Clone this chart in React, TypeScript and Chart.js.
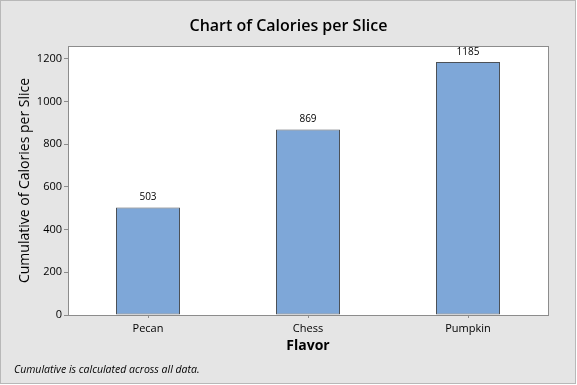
import React, { useEffect, useRef } from 'react';
import { Chart, registerables } from 'chart.js';

Chart.register(...registerables);

const categories = ['Pecan', 'Chess', 'Pumpkin'];
const calories = [503, 869, 1185];
const yMin = 0;
const yMax = 1260;
const yStep = 200;
const chartTitle = 'Chart of Calories per Slice';
const xTitle = 'Flavor';
const yTitle = 'Cumulative of Calories per Slice';
const footnote = 'Cumulative is calculated across all data.';

const FONT = "'Open Sans', 'DejaVu Sans', sans-serif";

const framePlugin = {
  id: 'frame',
  beforeDraw(chart: any) {
    const { ctx, width, height, chartArea: a } = chart;
    ctx.save();
    ctx.fillStyle = '#ffffff';
    ctx.fillRect(0, 0, width, height);
    ctx.fillStyle = '#e5e5e5';
    ctx.fillRect(0, 0, 576, 384);
    ctx.strokeStyle = '#b8b8b8';
    ctx.lineWidth = 1;
    ctx.strokeRect(0.5, 0.5, 575, 383);
    ctx.fillStyle = '#ffffff';
    ctx.fillRect(a.left, a.top, a.right - a.left, a.bottom - a.top);
    ctx.restore();
  },
  afterDatasetsDraw(chart: any) {
    const { ctx, chartArea: a } = chart;
    ctx.save();
    ctx.strokeStyle = '#8c8c8c';
    ctx.lineWidth = 1;
    ctx.strokeRect(Math.round(a.left) + 0.5, Math.round(a.top) + 0.5, Math.round(a.right - a.left), Math.round(a.bottom - a.top));
    const meta = chart.getDatasetMeta(0);
    ctx.fillStyle = '#000000';
    ctx.font = `10px ${FONT}`;
    ctx.textAlign = 'center';
    ctx.textBaseline = 'middle';
    meta.data.forEach((el: any, i: number) => {
      ctx.fillText(String(chart.data.datasets[0].data[i]), el.x, el.y - 10);
    });
    ctx.font = `italic 10.5px ${FONT}`;
    ctx.textAlign = 'left';
    ctx.fillText(footnote, 14, 370.5);
    ctx.restore();
  },
};

export default function App() {
  const ref = useRef<HTMLCanvasElement | null>(null);
  useEffect(() => {
    if (!ref.current) return;
    const chart = new Chart(ref.current, {
      type: 'bar',
      data: {
        labels: categories,
        datasets: [
          {
            data: calories,
            backgroundColor: '#7ea7d8',
            borderColor: '#4c5157',
            borderWidth: 1,
            borderSkipped: false,
            barPercentage: 0.4,
            categoryPercentage: 1,
          },
        ],
      },
      options: {
        responsive: false,
        animation: false,
        layout: { padding: { left: 0, right: 0, top: 0, bottom: 20 } },
        plugins: {
          legend: { display: false },
          tooltip: { enabled: false },
          title: {
            display: true,
            text: chartTitle,
            color: '#000000',
            font: { family: FONT, size: 16, weight: '600', lineHeight: 1.2 },
            padding: { top: 17, bottom: 9.8 },
          },
        },
        scales: {
          x: {
            grid: { display: true, drawOnChartArea: false, offset: false, tickLength: 3, color: '#8c8c8c' },
            border: { display: false },
            ticks: { color: '#000000', font: { family: FONT, size: 11 }, padding: 4 },
            title: {
              display: true,
              text: xTitle,
              color: '#000000',
              font: { family: FONT, size: 14, weight: 'bold', lineHeight: 1.2 },
              padding: { top: 0, bottom: 11 },
            },
            afterFit: (scale: any) => {
              scale.height = 50;
            },
          },
          y: {
            min: yMin,
            max: yMax,
            grid: { display: true, drawOnChartArea: false, tickLength: 4, color: '#8c8c8c' },
            border: { display: false },
            ticks: {
              stepSize: yStep,
              includeBounds: false,
              color: '#000000',
              font: { family: FONT, size: 11 },
              padding: 2,
              callback: (v: any) => String(v),
            },
            title: {
              display: true,
              text: yTitle,
              color: '#000000',
              font: { family: FONT, size: 14, lineHeight: 1.2 },
              padding: { top: 17, bottom: 0 },
            },
            afterFit: (scale: any) => {
              scale.width = 68;
            },
          },
          yRight: {
            position: 'right',
            display: true,
            grid: { display: false },
            border: { display: false },
            ticks: { display: false },
            afterFit: (scale: any) => {
              scale.width = 29;
            },
          },
        },
      },
      plugins: [framePlugin],
    } as any);
    return () => chart.destroy();
  }, []);
  return (
    <div style={{ position: 'absolute', left: 0, top: 0, width: 577, height: 385 }}>
      <canvas ref={ref} width={577} height={385} />
    </div>
  );
}
